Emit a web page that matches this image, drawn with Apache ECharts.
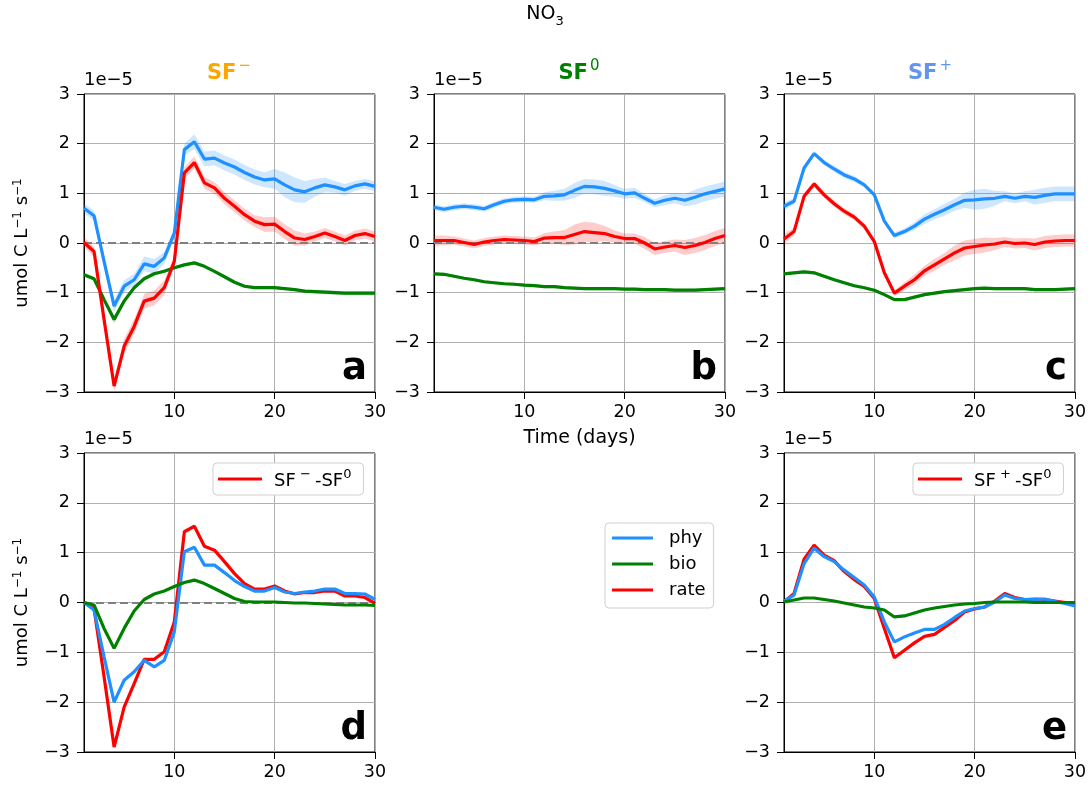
<!DOCTYPE html>
<html>
<head>
<meta charset="utf-8">
<script src="https://cdn.jsdelivr.net/npm/echarts@6/dist/echarts.min.js"></script>
<style>html,body{margin:0;padding:0;background:#fff}#c{width:1090px;height:785px}</style>
</head>
<body>
<div id="c"></div>
<script>
const days = [1,2,3,4,5,6,7,8,9,10,11,12,13,14,15,16,17,18,19,20,21,22,23,24,25,26,27,28,29,30];
const xTicks = [10,20,30];

// Panel a (SF-)
const aPhy  = [0.70,0.55,-0.37,-1.27,-0.87,-0.74,-0.42,-0.47,-0.30,0.20,1.88,2.04,1.69,1.71,1.61,1.53,1.42,1.33,1.27,1.29,1.17,1.07,1.03,1.11,1.17,1.13,1.07,1.15,1.19,1.14];
const aBio  = [-0.64,-0.72,-1.14,-1.54,-1.17,-0.90,-0.72,-0.62,-0.57,-0.50,-0.44,-0.40,-0.47,-0.57,-0.68,-0.79,-0.87,-0.90,-0.90,-0.90,-0.92,-0.94,-0.97,-0.98,-0.99,-1.00,-1.01,-1.01,-1.01,-1.01];
const aRate = [0.01,-0.17,-1.54,-2.88,-2.08,-1.68,-1.17,-1.11,-0.90,-0.37,1.41,1.62,1.21,1.11,0.90,0.74,0.57,0.44,0.37,0.38,0.23,0.10,0.07,0.13,0.20,0.13,0.05,0.15,0.19,0.13];
const aPhySd  = [0.10,0.10,0.12,0.12,0.12,0.12,0.15,0.15,0.12,0.10,0.12,0.15,0.15,0.15,0.15,0.15,0.15,0.15,0.15,0.20,0.25,0.25,0.22,0.18,0.15,0.12,0.12,0.10,0.10,0.10];
const aBioSd  = [0.04,0.04,0.06,0.08,0.06,0.04,0.04,0.04,0.03,0.03,0.03,0.03,0.03,0.03,0.03,0.03,0.03,0.03,0.03,0.03,0.03,0.03,0.03,0.04,0.04,0.04,0.04,0.04,0.04,0.04];
const aRateSd = [0.10,0.10,0.12,0.10,0.15,0.15,0.15,0.15,0.15,0.10,0.12,0.12,0.12,0.12,0.12,0.12,0.12,0.12,0.15,0.15,0.15,0.15,0.12,0.10,0.10,0.10,0.10,0.10,0.10,0.10];

// Panel b (SF0)
const bPhy  = [0.72,0.68,0.72,0.74,0.72,0.69,0.77,0.84,0.87,0.88,0.87,0.94,0.95,0.97,1.06,1.14,1.13,1.10,1.05,0.99,1.01,0.90,0.80,0.86,0.90,0.86,0.92,0.99,1.04,1.09];
const bBio  = [-0.62,-0.63,-0.67,-0.71,-0.74,-0.78,-0.80,-0.82,-0.83,-0.85,-0.86,-0.88,-0.88,-0.90,-0.91,-0.92,-0.92,-0.92,-0.92,-0.93,-0.93,-0.94,-0.94,-0.94,-0.95,-0.95,-0.95,-0.94,-0.93,-0.92];
const bRate = [0.05,0.05,0.05,0.01,-0.03,0.02,0.05,0.07,0.06,0.05,0.03,0.10,0.11,0.11,0.17,0.23,0.21,0.19,0.13,0.09,0.09,0.00,-0.12,-0.08,-0.05,-0.09,-0.05,0.01,0.09,0.15];
const bPhySd  = [0.06,0.06,0.06,0.06,0.06,0.06,0.06,0.06,0.06,0.06,0.06,0.08,0.10,0.12,0.15,0.15,0.15,0.15,0.12,0.10,0.10,0.08,0.08,0.10,0.10,0.12,0.15,0.15,0.15,0.15];
const bBioSd  = [0.03,0.03,0.03,0.03,0.03,0.03,0.03,0.03,0.03,0.03,0.03,0.03,0.03,0.03,0.03,0.03,0.03,0.03,0.03,0.03,0.03,0.03,0.03,0.03,0.03,0.03,0.03,0.03,0.03,0.03];
const bRateSd = [0.10,0.10,0.08,0.08,0.08,0.08,0.08,0.08,0.08,0.08,0.08,0.10,0.12,0.15,0.20,0.20,0.20,0.15,0.12,0.10,0.10,0.12,0.12,0.12,0.12,0.15,0.15,0.15,0.15,0.15];

// Panel c (SF+)
const cPhy  = [0.74,0.84,1.51,1.80,1.62,1.49,1.37,1.29,1.17,0.97,0.44,0.15,0.23,0.34,0.48,0.58,0.67,0.77,0.86,0.87,0.89,0.90,0.94,0.90,0.94,0.92,0.96,0.99,0.99,0.99];
const cBio  = [-0.62,-0.60,-0.58,-0.60,-0.67,-0.74,-0.80,-0.86,-0.90,-0.95,-1.04,-1.14,-1.14,-1.09,-1.04,-1.01,-0.98,-0.96,-0.94,-0.92,-0.91,-0.92,-0.92,-0.92,-0.92,-0.94,-0.94,-0.94,-0.93,-0.92];
const cRate = [0.08,0.23,0.94,1.19,0.97,0.79,0.64,0.52,0.34,0.03,-0.60,-1.01,-0.87,-0.74,-0.56,-0.44,-0.32,-0.20,-0.10,-0.07,-0.04,-0.02,0.02,-0.01,0.00,-0.03,0.02,0.04,0.05,0.05];
const cPhySd  = [0.08,0.06,0.05,0.05,0.05,0.06,0.06,0.06,0.05,0.05,0.05,0.06,0.06,0.08,0.10,0.10,0.12,0.12,0.15,0.20,0.20,0.15,0.10,0.10,0.10,0.15,0.15,0.15,0.15,0.15];
const cBioSd  = [0.03,0.03,0.03,0.03,0.03,0.03,0.03,0.03,0.03,0.03,0.03,0.03,0.03,0.03,0.03,0.03,0.03,0.03,0.03,0.03,0.03,0.03,0.03,0.03,0.03,0.03,0.03,0.03,0.03,0.03];
const cRateSd = [0.10,0.08,0.06,0.06,0.06,0.06,0.06,0.06,0.06,0.05,0.05,0.06,0.08,0.10,0.10,0.12,0.12,0.15,0.15,0.15,0.15,0.12,0.10,0.10,0.10,0.12,0.12,0.12,0.12,0.12];

// Panel d (SF- minus SF0)
const dPhy  = [0.00,-0.15,-1.09,-2.00,-1.56,-1.39,-1.16,-1.29,-1.16,-0.59,1.02,1.11,0.75,0.75,0.60,0.44,0.32,0.23,0.23,0.30,0.21,0.18,0.21,0.23,0.27,0.27,0.18,0.18,0.17,0.06];
const dBio  = [0.00,-0.05,-0.52,-0.92,-0.52,-0.17,0.06,0.17,0.23,0.32,0.40,0.45,0.38,0.28,0.18,0.08,0.02,0.01,0.01,0.01,0.00,-0.01,-0.01,-0.02,-0.03,-0.04,-0.05,-0.05,-0.05,-0.06];
const dRate = [0.00,-0.12,-1.49,-2.90,-2.10,-1.63,-1.14,-1.14,-0.99,-0.39,1.42,1.53,1.13,1.05,0.82,0.58,0.38,0.27,0.27,0.33,0.23,0.17,0.20,0.20,0.23,0.23,0.13,0.13,0.10,-0.02];

// Panel e (SF+ minus SF0)
const ePhy  = [0.03,0.15,0.78,1.09,0.92,0.82,0.65,0.50,0.35,0.11,-0.39,-0.79,-0.69,-0.61,-0.54,-0.54,-0.44,-0.30,-0.17,-0.12,-0.09,0.01,0.15,0.08,0.06,0.06,0.07,0.02,-0.02,-0.07];
const eBio  = [0.01,0.05,0.09,0.09,0.06,0.03,-0.01,-0.05,-0.09,-0.11,-0.15,-0.29,-0.27,-0.21,-0.15,-0.11,-0.08,-0.05,-0.03,-0.02,0.00,0.01,0.01,0.01,0.01,0.00,0.00,0.00,0.00,0.00];
const eRate = [0.01,0.18,0.87,1.15,0.95,0.84,0.62,0.46,0.32,0.08,-0.52,-1.11,-0.96,-0.81,-0.68,-0.64,-0.50,-0.36,-0.19,-0.13,-0.09,0.03,0.18,0.10,0.06,0.07,0.06,0.03,0.00,-0.05];

const panelLetters = ['a','b','c','d','e'];
const topTitles = ['{n|SF}{s|\u2212}', '{n|SF}{s|0}', '{n|SF}{s|+}'];
const diffLabels = ['SF−-SF0', 'SF+-SF0'];
const diffRich = {'SF−-SF0':'{n|SF}{s| \u2212 }{n|-SF}{s|0}', 'SF+-SF0':'{n|SF}{s| + }{n|-SF}{s|0}'};

const BLUE = '#1E90FF', GREEN = '#008000', RED = '#FF0000';
const FONT = 'DejaVu Sans, sans-serif';

const grids = [
  {left:84,  top:94,  width:291, height:298},
  {left:434, top:94,  width:291, height:298},
  {left:784, top:94,  width:291, height:298},
  {left:84,  top:453, width:291, height:299},
  {left:784, top:453, width:291, height:299}
];

const chart = echarts.init(document.getElementById('c'), null, {renderer:'canvas'});

const fmtNum = v => (v < 0 ? '\u2212' + Math.abs(v) : String(v));
const supRich = {
  n:{fontSize:18, fontFamily:FONT, color:'#000', verticalAlign:'bottom'},
  s:{fontSize:13, fontFamily:FONT, color:'#000', verticalAlign:'bottom', padding:[0,0,9,0]}
};

const xAxes = grids.map((g, i) => ({
  type:'value', gridIndex:i, min:1, max:30,
  name: i === 1 ? 'Time (days)' : '',
  nameLocation:'middle', nameGap:37,
  nameTextStyle:{fontSize:19, color:'#000', fontFamily:FONT},
  axisLine:{show:true, onZero:false, lineStyle:{color:'#000', width:1}},
  axisTick:{show:true, length:7, customValues:xTicks, lineStyle:{color:'#000'}},
  axisLabel:{show:true, customValues:xTicks, fontSize:17.5, color:'#000', fontFamily:FONT, margin:11},
  splitLine:{show:true, lineStyle:{color:'#b0b0b0', width:1}}
}));

const yAxes = grids.map((g, i) => ({
  type:'value', gridIndex:i, min:-3, max:3, interval:1,
  name: (i === 0 || i === 3) ? 'umol C L{s|\u22121} s{s|\u22121}' : '',
  nameLocation:'middle', nameGap:52, nameRotate:90,
  nameTextStyle:{fontSize:18, color:'#000', fontFamily:FONT, verticalAlign:'bottom',
    rich:{s:{fontSize:12, fontFamily:FONT, color:'#000', verticalAlign:'bottom', padding:[0,0,8,0]}}},
  axisLine:{show:true, onZero:false, lineStyle:{color:'#000', width:1}},
  axisTick:{show:true, length:7, lineStyle:{color:'#000'}},
  axisLabel:{show:true, fontSize:17.5, color:'#000', fontFamily:FONT, margin:14, formatter:fmtNum},
  splitLine:{show:true, lineStyle:{color:'#b0b0b0', width:1}}
}));

function band(idx, vals, sd, fill) {
  const data = days.map((d, i) => [d, vals[i] - sd[i], vals[i] + sd[i]]);
  return {
    type:'custom', xAxisIndex:idx, yAxisIndex:idx, z:1, silent:true,
    data: data,
    encode:{x:0, y:[1,2]},
    renderItem: function (params, api) {
      if (params.dataIndex !== 0) return;
      const up = data.map(p => api.coord([p[0], p[2]]));
      const lo = data.map(p => api.coord([p[0], p[1]])).reverse();
      return {type:'polygon', shape:{points: up.concat(lo)}, style:{fill:fill}};
    }
  };
}

function line(idx, name, vals, color, zeroDash) {
  const s = {
    type:'line', name:name, xAxisIndex:idx, yAxisIndex:idx, z:3,
    symbol:'none', animation:false,
    data: days.map((d, i) => [d, vals[i]]),
    lineStyle:{color:color, width:3.2}, itemStyle:{color:color}
  };
  if (zeroDash) {
    s.markLine = {
      silent:true, symbol:'none', animation:false, z:2,
      label:{show:false},
      lineStyle:{color:'#808080', type:[8,4], width:2.2},
      data:[{yAxis:0}]
    };
  }
  return s;
}

const series = [];
series.push(band(0, aPhy, aPhySd, 'rgba(30,144,255,0.22)'));
series.push(band(0, aBio, aBioSd, 'rgba(0,128,0,0.22)'));
series.push(band(0, aRate, aRateSd, 'rgba(255,0,0,0.2)'));
series.push(line(0, 'phy', aPhy, BLUE, true));
series.push(line(0, 'bio', aBio, GREEN));
series.push(line(0, 'rate', aRate, RED));

series.push(band(1, bPhy, bPhySd, 'rgba(30,144,255,0.22)'));
series.push(band(1, bBio, bBioSd, 'rgba(0,128,0,0.22)'));
series.push(band(1, bRate, bRateSd, 'rgba(255,0,0,0.2)'));
series.push(line(1, 'phy', bPhy, BLUE, true));
series.push(line(1, 'bio', bBio, GREEN));
series.push(line(1, 'rate', bRate, RED));

series.push(band(2, cPhy, cPhySd, 'rgba(30,144,255,0.22)'));
series.push(band(2, cBio, cBioSd, 'rgba(0,128,0,0.22)'));
series.push(band(2, cRate, cRateSd, 'rgba(255,0,0,0.2)'));
series.push(line(2, 'phy', cPhy, BLUE));
series.push(line(2, 'bio', cBio, GREEN));
series.push(line(2, 'rate', cRate, RED));

series.push(line(3, diffLabels[0], dRate, RED, true));
series.push(line(3, 'phy', dPhy, BLUE));
series.push(line(3, 'bio', dBio, GREEN));

series.push(line(4, diffLabels[1], eRate, RED));
series.push(line(4, 'phy', ePhy, BLUE));
series.push(line(4, 'bio', eBio, GREEN));

const graphics = [];
graphics.push({type:'text', x:545, y:28, style:{text:'{n|NO}{s|3}', fill:'#000', fontFamily:FONT, align:'center', verticalAlign:'bottom',
  rich:{n:{fontSize:19, fontFamily:FONT, fill:'#000', color:'#000', verticalAlign:'bottom', padding:[0,0,4,0]},
        s:{fontSize:13, fontFamily:FONT, fill:'#000', color:'#000', verticalAlign:'bottom'}}}});
const titleColors = ['#FFA500', GREEN, '#6495ED'];
const titleX = [229, 579, 930];
topTitles.forEach((t, i) => {
  const c = titleColors[i];
  graphics.push({type:'text', x:titleX[i], y:84, style:{text:t, fill:c, fontFamily:FONT, align:'center', verticalAlign:'bottom',
    rich:{n:{fontSize:21, fontWeight:'bold', fill:c, color:c, fontFamily:FONT, verticalAlign:'bottom'},
          s:{fontSize:15, fill:c, color:c, fontFamily:FONT, verticalAlign:'bottom', padding:[0,0,10,2]}}}});
});
grids.forEach((g, i) => {
  graphics.push({type:'text', x:g.left, y:g.top - 14, style:{text:'1e\u22125', fill:'#000', fontSize:18, fontFamily:FONT, align:'left', verticalAlign:'middle'}});
  graphics.push({type:'text', x:g.left + g.width - 8, y:g.top + g.height - 4, style:{text:panelLetters[i], fill:'#000', fontSize:37, fontWeight:'bold', fontFamily:FONT, align:'right', verticalAlign:'bottom'}});
});

const legendBase = {
  icon:'rect', itemHeight:3, selectedMode:false,
  backgroundColor:'#fff', borderColor:'#d0d0d0', borderWidth:1, borderRadius:4
};
const option = {
  animation:false,
  backgroundColor:'#fff',
  grid: grids.map(g => Object.assign({show:true, borderColor:'#000', borderWidth:1, backgroundColor:'transparent', containLabel:false}, g)),
  xAxis: xAxes,
  yAxis: yAxes,
  legend: [
    Object.assign({}, legendBase, {data:['phy','bio','rate'], orient:'vertical', left:605, top:523, itemWidth:41, itemGap:8,
      textStyle:{fontSize:18, color:'#000', fontFamily:FONT, padding:[0,0,0,11]}, padding:[6,8,9,7]}),
    Object.assign({}, legendBase, {data:[diffLabels[0]], left:213, top:463, itemWidth:44,
      formatter: n => diffRich[n],
      textStyle:{fontSize:18, color:'#000', fontFamily:FONT, padding:[0,0,0,7], rich:supRich}, padding:[5,12,5,5]}),
    Object.assign({}, legendBase, {data:[diffLabels[1]], left:913, top:463, itemWidth:44,
      formatter: n => diffRich[n],
      textStyle:{fontSize:18, color:'#000', fontFamily:FONT, padding:[0,0,0,7], rich:supRich}, padding:[5,12,5,5]})
  ],
  graphic: graphics,
  series: series
};
chart.setOption(option);
</script>
</body>
</html>
